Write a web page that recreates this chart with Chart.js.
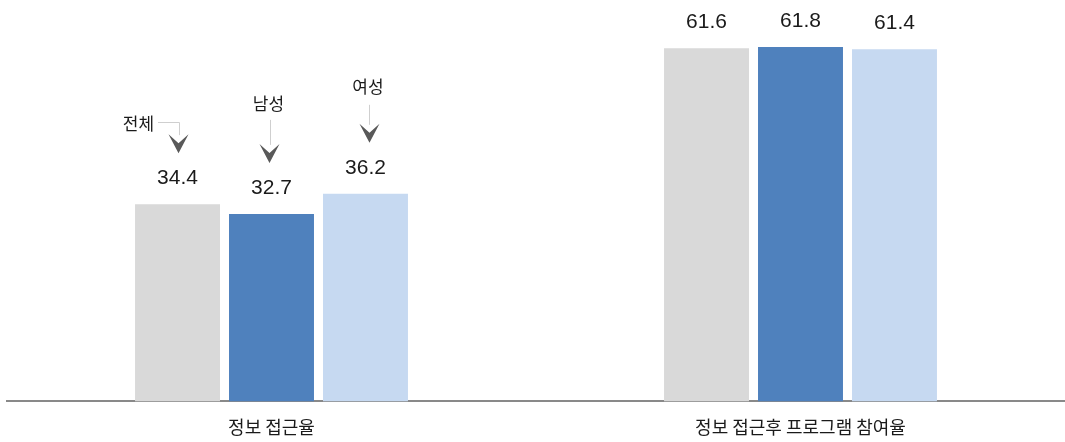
<!DOCTYPE html>
<html lang="ko">
<head>
<meta charset="utf-8">
<title>정보 접근율</title>
<script src="https://cdn.jsdelivr.net/npm/chart.js@4.4.1/dist/chart.umd.min.js"></script>
<style>
  html, body { margin: 0; padding: 0; background: #fff; overflow: hidden; }
  #wrap { position: relative; width: 1065px; height: 442px; }
</style>
</head>
<body>
<div id="wrap"><canvas id="chart-access"></canvas></div>
<script>
// data
var categories = ['정보 접근율', '정보 접근후 프로그램 참여율'];
var seriesNames = ['전체', '남성', '여성'];
var totalValues = [34.4, 61.6];
var maleValues = [32.7, 61.8];
var femaleValues = [36.2, 61.4];
var yMin = 0;
var yMax = 70;

var colors = ['#d9d9d9', '#4f81bd', '#c6d9f1'];
var textColor = '#1a1a1a';

Chart.defaults.font.family = "'Liberation Sans', 'Noto Sans CJK KR', sans-serif";

// value labels over each bar
var valueLabels = {
  id: 'valueLabels',
  afterDatasetsDraw: function (chart) {
    var ctx = chart.ctx;
    ctx.save();
    ctx.font = "21px 'Liberation Sans', sans-serif";
    ctx.fillStyle = textColor;
    ctx.textAlign = 'center';
    ctx.textBaseline = 'alphabetic';
    chart.data.datasets.forEach(function (ds, i) {
      chart.getDatasetMeta(i).data.forEach(function (bar, j) {
        ctx.fillText(ds.data[j].toFixed(1), bar.x, bar.y - 20);
      });
    });
    ctx.restore();
  }
};

// series call-outs (arrow + name) over the first group
var noteStyles = [
  { kind: 'elbow', dx: 1, textDx: -39, textDy: -30 },
  { kind: 'drop', dx: -2, textDx: -3, textDy: -59, lineTop: -43 },
  { kind: 'drop', dx: 4, textDx: 2.5, textDy: -56, lineTop: -38 }
];

var seriesNotes = {
  id: 'seriesNotes',
  afterDatasetsDraw: function (chart) {
    var ctx = chart.ctx;
    ctx.save();
    noteStyles.forEach(function (st, i) {
      var bar = chart.getDatasetMeta(i).data[0];
      var cx = bar.x + st.dx;
      var tip = bar.y - 51;

      // thin guide line
      ctx.strokeStyle = '#cfcfcf';
      ctx.lineWidth = 1;
      ctx.beginPath();
      if (st.kind === 'elbow') {
        ctx.moveTo(bar.x - 19.5, Math.round(tip - 31) + 0.5);
        ctx.lineTo(Math.round(cx) + 0.5, Math.round(tip - 31) + 0.5);
        ctx.lineTo(Math.round(cx) + 0.5, tip - 18);
      } else {
        ctx.moveTo(Math.round(cx) + 0.5, tip + st.lineTop);
        ctx.lineTo(Math.round(cx) + 0.5, tip - 18);
      }
      ctx.stroke();

      // chevron head
      ctx.fillStyle = '#595959';
      ctx.beginPath();
      ctx.moveTo(cx - 10, tip - 19);
      ctx.lineTo(cx, tip - 10);
      ctx.lineTo(cx + 10, tip - 19);
      ctx.lineTo(cx, tip);
      ctx.closePath();
      ctx.fill();

      // name
      ctx.fillStyle = textColor;
      ctx.font = "17px 'Noto Sans CJK KR', sans-serif";
      ctx.textAlign = 'center';
      ctx.textBaseline = 'middle';
      ctx.fillText(seriesNames[i], bar.x + st.textDx, tip + st.textDy);
    });
    ctx.restore();
  }
};

var ctxA = document.getElementById('chart-access').getContext('2d');
window.chartAccess = new Chart(ctxA, {
  type: 'bar',
  data: {
    labels: categories,
    datasets: [
      { label: seriesNames[0], data: totalValues, backgroundColor: colors[0] },
      { label: seriesNames[1], data: maleValues, backgroundColor: colors[1] },
      { label: seriesNames[2], data: femaleValues, backgroundColor: colors[2] }
    ]
  },
  options: {
    responsive: true,
    maintainAspectRatio: false,
    animation: false,
    layout: { padding: { left: 7, right: 0, top: 0, bottom: 0 } },
    datasets: {
      bar: { categoryPercentage: 0.533, barPercentage: 0.904, borderWidth: 0 }
    },
    plugins: {
      legend: { display: false },
      tooltip: { enabled: false }
    },
    scales: {
      x: {
        grid: { display: false, drawTicks: true, tickLength: 11 },
        border: { display: true, color: '#898989', width: 2 },
        ticks: {
          padding: 4,
          color: textColor,
          font: { size: 18, family: "'Noto Sans CJK KR', sans-serif", lineHeight: 1.2 }
        }
      },
      y: {
        display: false,
        min: yMin,
        max: yMax
      }
    }
  },
  plugins: [valueLabels, seriesNotes]
});
</script>
</body>
</html>
